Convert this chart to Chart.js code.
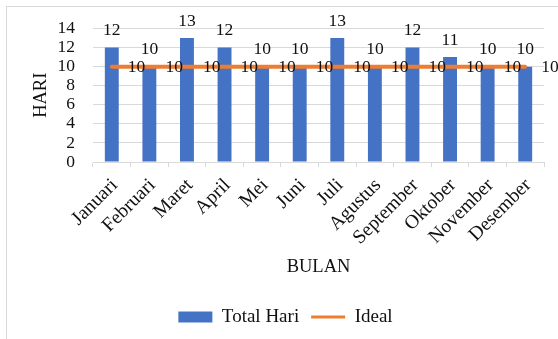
<!DOCTYPE html>
<html>
<head>
<meta charset="utf-8">
<style>
  html, body { margin: 0; padding: 0; background: #ffffff; }
  #wrap { position: relative; width: 558px; height: 339px; }
</style>
<script src="https://cdn.jsdelivr.net/npm/chart.js@4.4.1/dist/chart.umd.min.js"></script>
</head>
<body>
<div id="wrap"><canvas id="c" width="558" height="339"></canvas></div>
<script>
// Monthly working days against the ideal target
const months = ['Januari', 'Februari', 'Maret', 'April', 'Mei', 'Juni',
                'Juli', 'Agustus', 'September', 'Oktober', 'November', 'Desember'];
const totalHari = [12, 10, 13, 12, 10, 10, 13, 10, 12, 11, 10, 10];
const ideal = [10, 10, 10, 10, 10, 10, 10, 10, 10, 10, 10, 10];
const yTicks = [0, 2, 4, 6, 8, 10, 12, 14];

const SERIF = '"Liberation Serif", "Times New Roman", serif';
const BLUE = '#4472C4';
const ORANGE = '#ED7D31';
const GRID = '#d9d9d9';
const TEXT = '#111111';

// White background plus the thin frame around the chart object
const framePlugin = {
  id: 'frame',
  beforeDraw(chart) {
    const ctx = chart.ctx;
    ctx.save();
    ctx.fillStyle = '#ffffff';
    ctx.fillRect(0, 0, chart.width, chart.height);
    ctx.strokeStyle = GRID;
    ctx.lineWidth = 1;
    ctx.strokeRect(6.5, 6.5, chart.width + 20, chart.height + 20);
    ctx.restore();
  }
};

// Value labels: above each bar, and to the right of each target point
const valueLabels = {
  id: 'valueLabels',
  afterDatasetsDraw(chart) {
    const ctx = chart.ctx;
    ctx.save();
    ctx.font = '17.5px ' + SERIF;
    ctx.fillStyle = TEXT;
    ctx.textBaseline = 'middle';
    chart.data.datasets.forEach((ds, di) => {
      const meta = chart.getDatasetMeta(di);
      meta.data.forEach((el, i) => {
        const txt = String(ds.data[i]);
        if (meta.type === 'bar') {
          ctx.textAlign = 'center';
          ctx.fillText(txt, el.x, el.y - 17);
        } else {
          ctx.textAlign = 'left';
          ctx.fillText(txt, el.x + 16, el.y + 1);
        }
      });
    });
    ctx.restore();
  }
};

new Chart(document.getElementById('c'), {
  data: {
    labels: months,
    datasets: [
      {
        type: 'bar',
        label: 'Total Hari',
        data: totalHari,
        backgroundColor: BLUE,
        borderWidth: 0,
        barPercentage: 0.37,
        categoryPercentage: 1.0,
        order: 1
      },
      {
        type: 'line',
        label: 'Ideal',
        data: ideal,
        borderColor: ORANGE,
        backgroundColor: ORANGE,
        borderWidth: 4,
        borderCapStyle: 'round',
        pointRadius: 0,
        pointHoverRadius: 0,
        tension: 0,
        order: 0
      }
    ]
  },
  options: {
    responsive: false,
    animation: false,
    events: [],
    layout: { padding: { left: 27, right: 14, top: 26, bottom: 2.5 } },
    plugins: {
      tooltip: { enabled: false },
      legend: {
        position: 'bottom',
        labels: {
          font: { family: SERIF, size: 19 },
          color: TEXT,
          usePointStyle: true,
          pointStyleWidth: 34,
          boxHeight: 11,
          padding: 12,
          generateLabels(chart) {
            return chart.data.datasets.map((ds, i) => ({
              text: ds.label,
              datasetIndex: i,
              fillStyle: ds.type === 'bar' ? BLUE : ORANGE,
              strokeStyle: ds.type === 'bar' ? BLUE : ORANGE,
              lineWidth: ds.type === 'bar' ? 0 : 3,
              pointStyle: ds.type === 'bar' ? 'rect' : 'line',
              fontColor: TEXT,
              hidden: false
            }));
          }
        }
      }
    },
    scales: {
      x: {
        offset: true,
        grid: {
          offset: true,
          drawOnChartArea: false,
          drawTicks: true,
          tickLength: 5,
          color: GRID
        },
        border: { display: true, color: GRID },
        ticks: {
          autoSkip: false,
          minRotation: 45,
          maxRotation: 45,
          padding: 7,
          labelOffset: 3,
          color: TEXT,
          font: { family: SERIF, size: 19.5 }
        },
        title: {
          display: true,
          text: 'BULAN',
          color: TEXT,
          font: { family: SERIF, size: 18.5 },
          padding: { top: 0, bottom: 17.4 }
        },
        afterFit(scale) { scale.height = 133.5; }
      },
      y: {
        min: 0,
        max: 14,
        afterBuildTicks(scale) { scale.ticks = yTicks.map(v => ({ value: v })); },
        grid: { color: GRID, drawTicks: false },
        border: { display: false },
        ticks: {
          autoSkip: false,
          padding: 18,
          color: TEXT,
          font: { family: SERIF, size: 17.5 }
        },
        title: {
          display: true,
          text: 'HARI',
          color: TEXT,
          font: { family: SERIF, size: 18.5 },
          padding: { top: 3, bottom: 0 }
        },
        afterFit(scale) { scale.width = 66; }
      }
    }
  },
  plugins: [framePlugin, valueLabels]
});
</script>
</body>
</html>
